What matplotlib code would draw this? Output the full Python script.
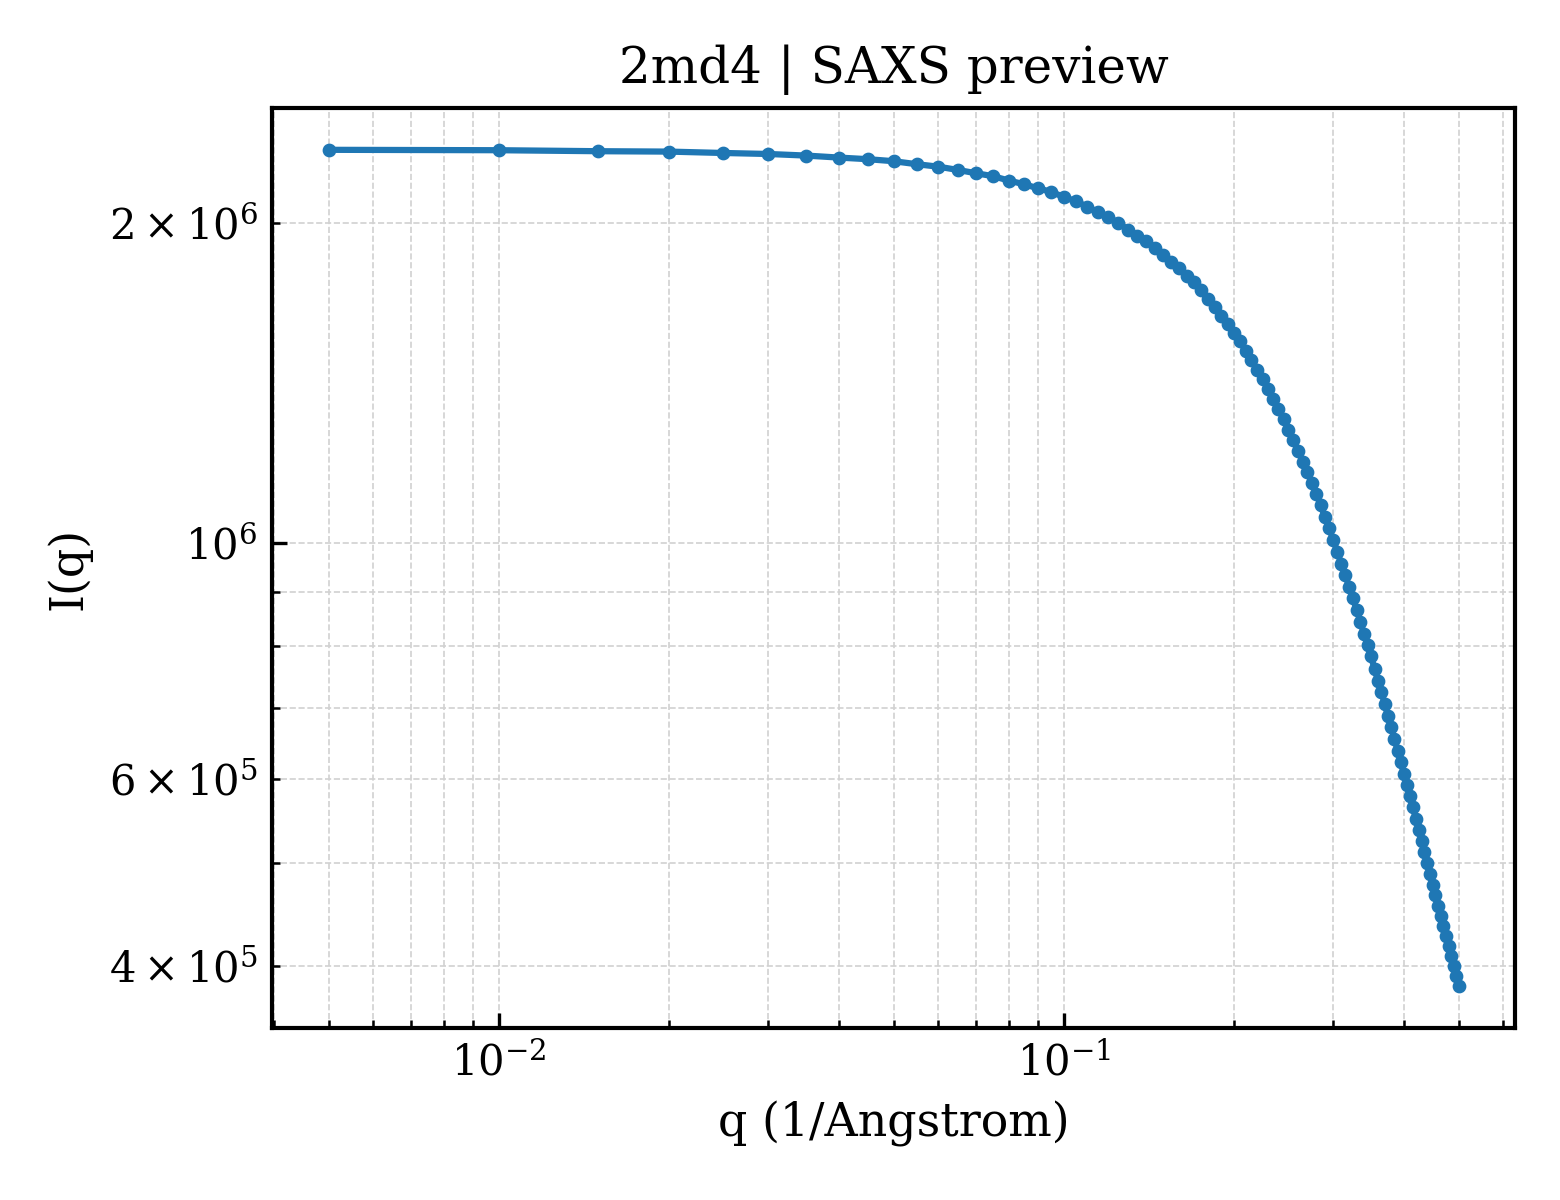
import matplotlib
matplotlib.use("Agg")
import matplotlib.pyplot as plt

plt.rcParams['font.family'] = ['DejaVu Serif']
plt.rcParams['mathtext.fontset'] = 'dejavuserif'

q = [0.005, 0.010, 0.015, 0.020, 0.025, 0.030, 0.035, 0.040, 0.045, 0.050,
     0.055, 0.060, 0.065, 0.070, 0.075, 0.080, 0.085, 0.090, 0.095, 0.100,
     0.105, 0.110, 0.115, 0.120, 0.125, 0.130, 0.135, 0.140, 0.145, 0.150,
     0.155, 0.160, 0.165, 0.170, 0.175, 0.180, 0.185, 0.190, 0.195, 0.200,
     0.205, 0.210, 0.215, 0.220, 0.225, 0.230, 0.235, 0.240, 0.245, 0.250,
     0.255, 0.260, 0.265, 0.270, 0.275, 0.280, 0.285, 0.290, 0.295, 0.300,
     0.305, 0.310, 0.315, 0.320, 0.325, 0.330, 0.335, 0.340, 0.345, 0.350,
     0.355, 0.360, 0.365, 0.370, 0.375, 0.380, 0.385, 0.390, 0.395, 0.400,
     0.405, 0.410, 0.415, 0.420, 0.425, 0.430, 0.435, 0.440, 0.445, 0.450,
     0.455, 0.460, 0.465, 0.470, 0.475, 0.480, 0.485, 0.490, 0.495, 0.500]

intensity = [2.343e6, 2.341e6, 2.336e6, 2.334e6, 2.327e6, 2.322e6, 2.314e6, 2.304e6, 2.296e6, 2.286e6,
             2.271e6, 2.259e6, 2.243e6, 2.227e6, 2.213e6, 2.192e6, 2.175e6, 2.156e6, 2.139e6, 2.116e6,
             2.096e6, 2.072e6, 2.047e6, 2.025e6, 2.000e6, 1.971e6, 1.946e6, 1.922e6, 1.893e6, 1.867e6,
             1.839e6, 1.813e6, 1.784e6, 1.759e6, 1.728e6, 1.696e6, 1.666e6, 1.636e6, 1.607e6, 1.576e6,
             1.547e6, 1.517e6, 1.486e6, 1.455e6, 1.426e6, 1.396e6, 1.366e6, 1.337e6, 1.308e6, 1.278e6,
             1.249e6, 1.221e6, 1.192e6, 1.165e6, 1.139e6, 1.112e6, 1.086e6, 1.057e6, 1.032e6, 1.007e6,
             9.813e5, 9.555e5, 9.330e5, 9.097e5, 8.870e5, 8.656e5, 8.433e5, 8.212e5, 8.017e5, 7.823e5,
             7.611e5, 7.420e5, 7.245e5, 7.054e5, 6.871e5, 6.709e5, 6.541e5, 6.377e5, 6.219e5, 6.063e5,
             5.920e5, 5.785e5, 5.641e5, 5.500e5, 5.374e5, 5.248e5, 5.124e5, 5.000e5, 4.882e5, 4.771e5,
             4.666e5, 4.558e5, 4.461e5, 4.359e5, 4.266e5, 4.174e5, 4.085e5, 3.997e5, 3.912e5, 3.828e5]

title = "2md4 | SAXS preview"
xlabel = "q (1/Angstrom)"
ylabel = "I(q)"

fig = plt.figure(figsize=(5.2, 4.0), dpi=300)
ax = fig.add_axes([0.1744, 0.1433, 0.7968, 0.7667])
ax.plot(q, intensity, '-o', color='#1f77b4', linewidth=1.5, markersize=2.3)
ax.set_xscale('log')
ax.set_yscale('log')
ax.grid(True, which='both', linestyle='--', linewidth=0.4, color='0.82')
ax.set_axisbelow(True)
ax.tick_params(which='both', direction='in', labelsize=10)
for s in ax.spines.values():
    s.set_linewidth(1.0)
ax.set_title(title, fontsize=12)
ax.set_xlabel(xlabel, fontsize=11)
ax.set_ylabel(ylabel, fontsize=11)
fig.savefig("out.png", dpi=300)
